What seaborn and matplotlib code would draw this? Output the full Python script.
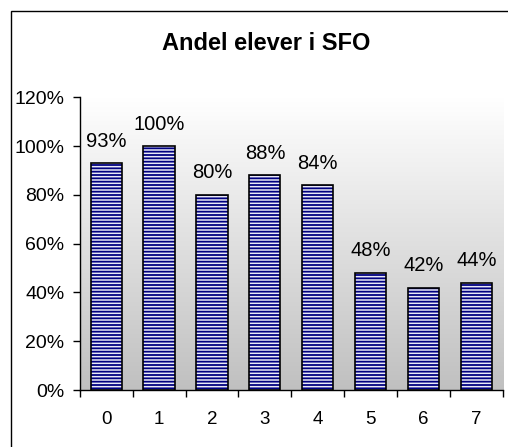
import numpy as np
import pandas as pd
import matplotlib
matplotlib.use('Agg')
import matplotlib.pyplot as plt
import seaborn as sns
from matplotlib.ticker import FixedLocator, PercentFormatter

# Data
categories = ['0', '1', '2', '3', '4', '5', '6', '7']
shares = [0.93, 1.00, 0.80, 0.88, 0.84, 0.48, 0.42, 0.44]
title = 'Andel elever i SFO'

data = pd.DataFrame({'Trinn': categories, 'Andel': shares})

sns.set_style('white')
plt.rcParams['font.family'] = ['Liberation Sans', 'DejaVu Sans']
plt.rcParams['hatch.linewidth'] = 1.3
plt.rcParams['text.color'] = 'black'
plt.rcParams['xtick.labelcolor'] = 'black'
plt.rcParams['ytick.labelcolor'] = 'black'

fig = plt.figure(figsize=(5.08, 4.47), dpi=100)
ax = fig.add_axes([0.157, 0.1275, 0.833, 0.655])

# Outer chart frame (extends past the picture edge, as in the reference)
frame = plt.Rectangle((11 / 508, -0.05), 1.2, 1 - 11 / 447 + 0.05,
                      transform=fig.transFigure, fill=False,
                      edgecolor='black', linewidth=1.0, zorder=0)
fig.patches.append(frame)

# Gradient plot area: white at top, grey at the bottom
grad = np.linspace(1, 0, 256).reshape(-1, 1)
ax.imshow(grad, cmap=matplotlib.colors.LinearSegmentedColormap.from_list(
    'bg', ['#c0c0c0', '#ffffff']), aspect='auto', extent=[0, 1, 0, 1],
    transform=ax.transAxes, zorder=0)

# Hatched bars (navy stripes) then a black outline on top
sns.barplot(x='Trinn', y='Andel', data=data, ax=ax, width=0.59,
            color='#e8e8f8', edgecolor='#000080', linewidth=0, hatch='-----',
            zorder=2)
sns.barplot(x='Trinn', y='Andel', data=data, ax=ax, width=0.59,
            fill=False, edgecolor='black', linewidth=1.2, zorder=3)

ax.bar_label(ax.containers[0], labels=[f'{v:.0%}' for v in shares],
             padding=9, fontsize=14.5, color='black')

ax.set_xlim(-0.5, 7.5)
ax.set_ylim(0, 1.2)
ax.set_yticks(np.arange(0, 1.21, 0.2))
ax.yaxis.set_major_formatter(PercentFormatter(1.0, decimals=0))
ax.xaxis.set_minor_locator(FixedLocator(np.arange(-0.5, 8, 1)))
ax.tick_params(axis='x', which='major', length=0, pad=15, labelsize=13.5)
ax.tick_params(axis='x', which='minor', length=5, width=1, color='black',
               direction='out', bottom=True)
ax.tick_params(axis='y', length=5, width=1, color='black', direction='out',
               left=True, pad=6, labelsize=14)
ax.set_xlabel('')
ax.set_ylabel('')

for side in ['top', 'right']:
    ax.spines[side].set_visible(False)
for side in ['left', 'bottom']:
    ax.spines[side].set_color('black')
    ax.spines[side].set_linewidth(1)

fig.text(266 / 508, 1 - 43 / 447, title, ha='center', va='center',
         fontsize=17, fontweight='bold', color='black')

fig.savefig('out.png', dpi=100)
